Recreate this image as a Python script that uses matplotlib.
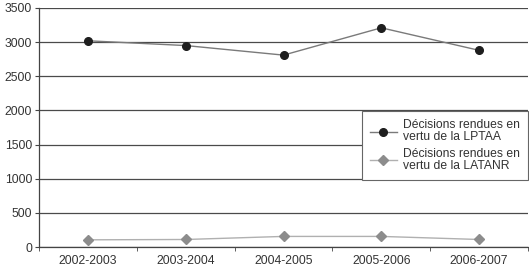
import matplotlib
matplotlib.use("Agg")
import matplotlib.pyplot as plt
import numpy as np

# ─── Data ───────────────────────────────────────────────────────────────────
years = ["2002-2003", "2003-2004", "2004-2005", "2005-2006", "2006-2007"]
lptaa = [3020, 2950, 2810, 3210, 2880]
latanr = [105, 110, 155, 155, 110]
label_lptaa = "Décisions rendues en\nvertu de la LPTAA"
label_latanr = "Décisions rendues en\nvertu de la LATANR"

plt.rcParams["font.family"] = ["Liberation Sans", "DejaVu Sans"]
FS = 8.7

fig = plt.figure(figsize=(5.29, 2.79), dpi=100)
ax = fig.add_axes([39 / 529, 32 / 279, 489 / 529, 239 / 279])

x = np.arange(len(years))
ax.plot(x, lptaa, color="#7a7a7a", linewidth=1.0, marker="o", markersize=5.5,
        markerfacecolor="#1e1e1e", markeredgecolor="#1e1e1e", label=label_lptaa, zorder=3)
ax.plot(x, latanr, color="#b0b0b0", linewidth=1.0, marker="D", markersize=5.5,
        markerfacecolor="#8c8c8c", markeredgecolor="#8c8c8c", label=label_latanr, zorder=3)

ax.set_xlim(-0.5, len(years) - 0.5)
ax.set_ylim(0, 3500)
ax.set_yticks(np.arange(0, 3501, 500))
ax.grid(axis="y", color="#4a4a4a", linewidth=0.9)
ax.set_axisbelow(True)

# category labels centred, tick marks on the boundaries
ax.set_xticks(x)
ax.set_xticklabels(years)
ax.set_xticks(np.arange(-0.5, len(years)), minor=True)
ax.tick_params(axis="x", which="major", length=0, pad=6)
ax.tick_params(axis="x", which="minor", length=3, color="#444444", direction="out")
ax.tick_params(axis="y", length=3, color="#444444", pad=2)
ax.tick_params(labelsize=FS, labelcolor="#333333")

for side in ["top", "right"]:
    ax.spines[side].set_visible(False)
for side in ["left", "bottom"]:
    ax.spines[side].set_color("#444444")
    ax.spines[side].set_linewidth(0.9)

leg = ax.legend(loc="upper right", bbox_to_anchor=(1.0, 0.569), fontsize=FS,
                frameon=True, fancybox=False, edgecolor="#666666", framealpha=1,
                handlelength=2.2, borderaxespad=0, labelspacing=0.38,
                borderpad=0.6, handletextpad=0.5)
leg.get_frame().set_linewidth(0.8)
for t in leg.get_texts():
    t.set_color("#333333")
    t.set_linespacing(1.0)
# a little extra room on the right, as in the original box
leg._legend_box.sep = 0
leg._legend_box.pad = 6

fig.savefig("out.png", dpi=100)
